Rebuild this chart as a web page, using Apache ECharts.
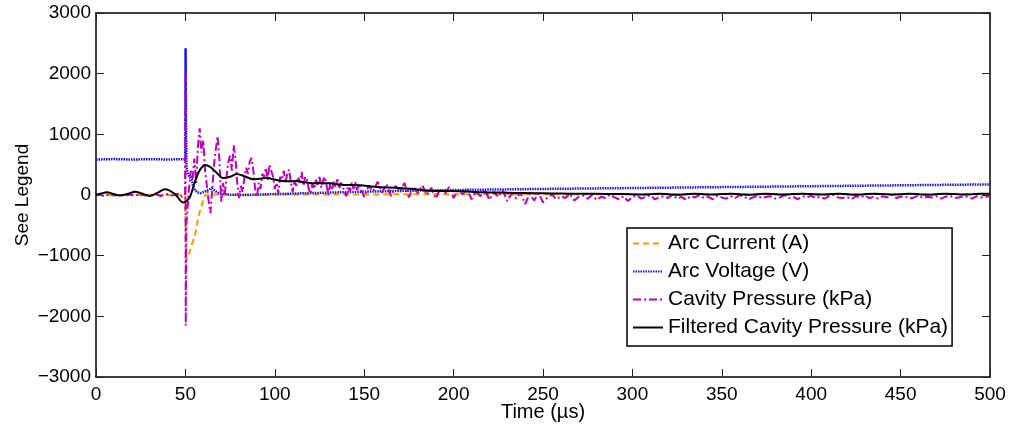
<!DOCTYPE html>
<html>
<head>
<meta charset="utf-8">
<script src="https://cdn.jsdelivr.net/npm/echarts@6/dist/echarts.min.js"></script>
<style>html,body{margin:0;padding:0;background:#fff}#c{width:1013px;height:429px}</style>
</head>
<body>
<div id="c"></div>
<script>
// ---------- data ----------
const seriesNames = ['Arc Current (A)', 'Arc Voltage (V)', 'Cavity Pressure (kPa)', 'Filtered Cavity Pressure (kPa)'];
const xTicks = [0, 50, 100, 150, 200, 250, 300, 350, 400, 450, 500];
const yTicks = [-3000, -2000, -1000, 0, 1000, 2000, 3000];

const currentTime = [0, 49.8, 50.3, 50.6, 51.6, 53.5, 55.4, 57.2, 60, 61, 65, 80, 100, 150, 200, 250, 300, 350, 400, 450, 500];
const currentVal  = [0, 0, -900, -1070, -1015, -825, -660, -360, -80, 0, 10, 5, 10, 10, 12, 12, 12, 14, 14, 15, 15];

const voltageTime = [0, 10, 20, 30, 40, 49.9, 50.1, 50.3, 50.6, 51.5, 52.6, 53.5, 54.5, 55.4, 57, 58.5, 61, 64.7, 67, 69, 75, 85, 100, 125, 150, 175, 200, 250, 300, 350, 400, 450, 500];
const voltageVal  = [585, 592, 585, 590, 586, 590, 2420, 1300, 450, 340, 357, 250, 130, 80, 40, 30, 60, 110, 60, 25, 5, 0, 15, 35, 55, 70, 82, 100, 115, 130, 145, 160, 175];

const pressTimePre = [0, 2, 4, 6, 8, 10, 12, 14, 16, 18, 20, 22, 24, 26, 28, 30, 32, 34, 36, 38, 40, 42, 44, 46, 48, 49.8, 50.0, 50.2, 50.5];
const pressValPre  = [0, 10, -15, 5, 20, -10, 0, 15, -20, 10, 5, -15, 20, 0, -10, 15, -5, 10, -20, 5, 15, -10, 0, 20, -30, 0, 2050, -2150, -500];
// 51..150 µs, every 1 µs
const pressValMid = [
  -300, 100, 400, 250, 600, 200, 800, 1100, 700, 900,
  400, 150, -100, -300, 100, 500, 750, 970, 600, -110,
  200, 0, 300, 550, 650, 400, 820, 600, 200, -50,
  150, 50, 300, 450, 350, 550, 610, 400, 100, -30,
  200, 100, 350, 300, 450, 250, 500, 530, 300, 100,
  200, 20, 300, 250, 400, 200, 350, 420, 200, 50,
  250, 150, 300, 200, 380, 150, 300, 250, 100, 20,
  180, 100, 250, 150, 300, 120, 240, 300, 150, 0,
  200, 80, 220, 130, 260, 100, 200, 150, 50, -20,
  150, 60, 200, 100, 220, 80, 180, 120, 40, -30
];
// 152.5..500 µs, every 2.5 µs
const pressValLate = [
  150, 60, 220, 40, 180, -20, 150, 60, 200, -40,
  140, 30, 160, 0, 120, -60, 100, 20, 130, -50,
  80, 10, 110, -70, 60, -20, 90, -80, 50, -30,
  80, -100, 30, -60, 40, -150, 20, -90, 30, -120,
  -40, 10, -70, -20, -50, 20, -90, -30, -10, -60,
  0, -80, -30, -50, 10, -40, -70, -20, -100, -30,
  -10, -60, -30, 0, -70, -40, -20, -50, 10, -60,
  -30, -80, -20, -40, 0, -50, -30, -70, -10, -40,
  -60, -20, -50, 0, -30, -70, -40, -10, -50, -30,
  -20, -60, -40, 0, -50, -30, -70, -20, -40, -10,
  -50, -30, -60, -20, 0, -40, -50, -30, -70, -20,
  -40, -10, -50, -30, -60, -20, -40, 0, -50, -30,
  -20, -60, -40, -10, -50, -30, -40, -20, -60, -30,
  -10, -50, -40, -20, -30, -60, -20, -40, -30, -20
];

const filtTime = [0, 3, 6, 10, 13.4, 18, 21.8, 26, 30, 34, 38.6, 44, 48.8, 50.5, 52.6, 54.5, 56.3, 58.5, 61, 64, 67, 71, 75, 78.7, 83, 88, 92, 95.5, 99, 103, 108, 112, 116, 121, 126, 131, 136, 140, 148, 154, 159, 168, 177, 187, 196, 205, 215, 225, 235, 245, 255, 265, 275, 285, 295, 305, 315, 325, 335, 345, 355, 365, 375, 385, 395, 405, 415, 425, 435, 445, 455, 465, 475, 485, 495, 500];
const filtVal  = [0, 25, 45, 15, -10, 20, 55, 20, -15, 30, 95, 20, -125, -100, -28, 140, 300, 430, 495, 460, 380, 280, 300, 345, 310, 258, 270, 285, 260, 236, 225, 230, 215, 192, 195, 192, 175, 165, 160, 140, 127, 120, 99, 71, 66, 60, 44, 40, 35, 30, 25, 22, 20, 18, 15, 8, 20, 6, 20, 8, 22, 6, 20, 8, 22, 8, 20, 6, 22, 8, 20, 6, 22, 8, 20, 20];

// ---------- build ----------
function pairs(t, v) { return t.map((x, i) => [x, v[i]]); }
const pressTime = pressTimePre.slice();
for (let k = 51; k <= 150; k++) pressTime.push(k);
for (let k = 1; k <= 140; k++) pressTime.push(150 + 2.5 * k);
const pressVal = pressValPre.concat(pressValMid, pressValLate);

const FONT = 'Liberation Sans';
const minusFmt = v => String(v).replace('-', '\u2212');

const axisCommon = {
  axisLine: { show: true, onZero: false, lineStyle: { color: '#000', width: 1.5 } },
  axisTick: { show: true, inside: true, length: 8, lineStyle: { color: '#222', width: 1 } },
  splitLine: { show: false }
};

const option = {
  animation: false,
  backgroundColor: '#fff',
  grid: { left: 96, right: 23, top: 13, bottom: 52, containLabel: false },
  xAxis: [
    Object.assign({}, axisCommon, {
      type: 'value', min: 0, max: 500, interval: 50, position: 'bottom',
      name: 'Time (\u00b5s)', nameLocation: 'middle', nameGap: 25, nameMoveOverlap: false,
      nameTextStyle: { fontFamily: FONT, fontSize: 20, color: '#000' },
      axisLabel: { margin: 8, fontFamily: FONT, fontSize: 19, color: '#000', formatter: minusFmt, showMinLabel: true, showMaxLabel: true }
    }),
    Object.assign({}, axisCommon, {
      type: 'value', min: 0, max: 500, interval: 50, position: 'top', axisLabel: { show: false }
    })
  ],
  yAxis: [
    Object.assign({}, axisCommon, {
      type: 'value', min: -3000, max: 3000, interval: 1000, position: 'left',
      name: 'See Legend', nameLocation: 'middle', nameGap: 64, nameRotate: 90, nameMoveOverlap: false,
      nameTextStyle: { fontFamily: FONT, fontSize: 19, color: '#000' },
      axisLabel: { margin: 5, fontFamily: FONT, fontSize: 19, color: '#000', formatter: minusFmt, showMinLabel: true, showMaxLabel: true }
    }),
    Object.assign({}, axisCommon, {
      type: 'value', min: -3000, max: 3000, interval: 1000, position: 'right', axisLabel: { show: false }
    })
  ],
  legend: {
    orient: 'vertical', left: 627, top: 228,
    itemWidth: 30, itemHeight: 14, itemGap: 7,
    padding: [5, 4, 8, 5],
    borderColor: '#000', borderWidth: 1.5, backgroundColor: '#fff',
    itemStyle: { opacity: 0 },
    textStyle: { fontFamily: FONT, fontSize: 21, color: '#000' },
    data: seriesNames
  },
  series: [
    { name: seriesNames[0], type: 'line', symbol: 'none', data: pairs(currentTime, currentVal),
      lineStyle: { color: '#ff9900', width: 2, type: [6, 4] }, itemStyle: { color: '#ff9900' }, z: 2 },
    { name: seriesNames[1], type: 'line', symbol: 'none', data: pairs(voltageTime, voltageVal),
      lineStyle: { color: '#1010ff', width: 2.5, type: [1.5, 1] }, itemStyle: { color: '#1010ff' }, z: 3 },
    { name: seriesNames[2], type: 'line', symbol: 'none', data: pairs(pressTime, pressVal),
      lineStyle: { color: '#c000c0', width: 2, type: [8, 3, 2, 3] }, itemStyle: { color: '#c000c0' }, z: 4 },
    { name: seriesNames[3], type: 'line', symbol: 'none', smooth: 0.3, data: pairs(filtTime, filtVal),
      lineStyle: { color: '#000', width: 2 }, itemStyle: { color: '#000' }, z: 5 }
  ]
};

const chart = echarts.init(document.getElementById('c'), null, { renderer: 'canvas' });
chart.setOption(option);
</script>
</body>
</html>
